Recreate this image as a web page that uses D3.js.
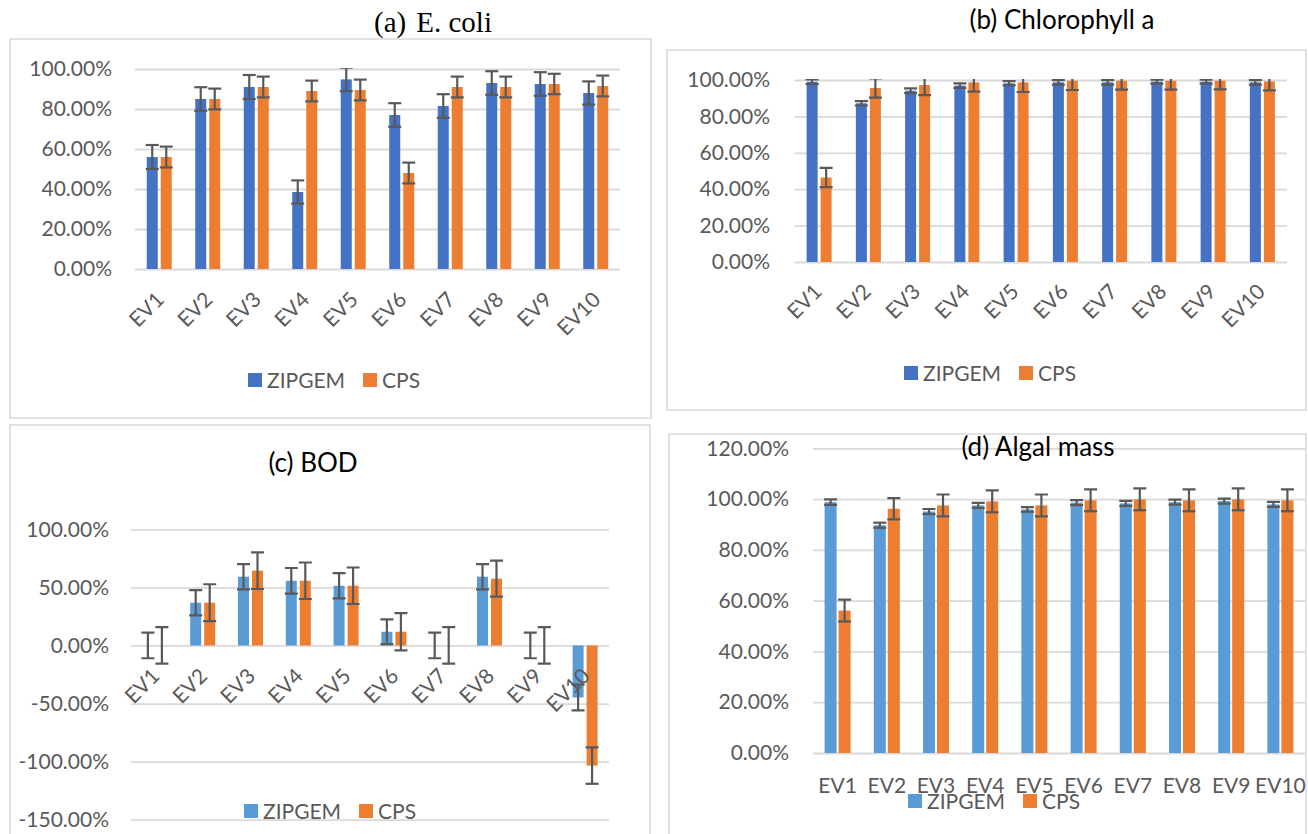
<!DOCTYPE html>
<html>
<head>
<meta charset="utf-8">
<script src="https://cdn.jsdelivr.net/npm/d3@7"></script>
<style>
  html, body { margin: 0; padding: 0; background: #ffffff; }
  svg { display: block; }
</style>
</head>
<body>
<svg id="fig" width="1308" height="834"></svg>
<script>
// ---- data -------------------------------------------------------------
const categories = ["EV1", "EV2", "EV3", "EV4", "EV5", "EV6", "EV7", "EV8", "EV9", "EV10"];
const seriesNames = ["ZIPGEM", "CPS"];

// (a) E. coli  (percent removal, with error magnitudes)
const ecoliZipgem    = [56.0, 85.0, 91.0, 38.5, 94.8, 77.0, 81.5, 93.0, 92.5, 88.0];
const ecoliZipgemErr = [6.0, 5.9, 6.0, 5.8, 5.9, 5.9, 5.9, 5.9, 5.9, 5.8];
const ecoliCps       = [56.0, 85.0, 91.0, 89.0, 89.5, 48.0, 91.0, 91.0, 92.5, 91.5];
const ecoliCpsErr    = [5.2, 5.2, 5.2, 5.2, 5.2, 5.2, 5.2, 5.2, 5.1, 5.2];
const ecoliTicks     = [0, 20, 40, 60, 80, 100];

// (b) Chlorophyll a
const chlorZipgem    = [99.0, 87.2, 94.1, 96.9, 98.2, 98.7, 98.7, 99.1, 99.1, 98.7];
const chlorZipgemErr = [1.3, 1.2, 1.3, 1.2, 1.2, 1.2, 1.2, 1.1, 1.1, 1.2];
const chlorCps       = [46.4, 95.6, 97.2, 98.7, 98.7, 99.6, 99.6, 99.6, 99.6, 99.2];
const chlorCpsErr    = [5.3, 5.3, 5.5, 5.1, 5.3, 5.1, 4.9, 4.9, 4.7, 4.9];
const chlorTicks     = [0, 20, 40, 60, 80, 100];

// (c) BOD
const bodZipgem      = [0, 36.8, 59.2, 55.7, 51.4, 11.8, 0, 59.2, 0, -44.8];
const bodZipgemErr   = [11.0, 10.9, 10.9, 11.0, 10.9, 10.7, 11.0, 10.9, 11.0, 11.0];
const bodCps         = [0, 36.8, 64.4, 55.7, 51.4, 11.8, 0, 57.5, 0, -103.4];
const bodCpsErr      = [15.7, 15.9, 15.8, 15.7, 15.7, 16.0, 15.7, 15.5, 15.7, 15.7];
const bodTicks       = [-150, -100, -50, 0, 50, 100];

// (d) Algal mass
const algalZipgem    = [98.8, 89.7, 95.1, 97.5, 95.9, 98.6, 98.3, 98.8, 99.2, 97.9];
const algalZipgemErr = [1.1, 1.0, 1.0, 1.0, 0.9, 1.0, 1.0, 1.0, 1.0, 1.0];
const algalCps       = [56.1, 96.2, 97.5, 99.1, 97.5, 99.5, 99.9, 99.5, 99.9, 99.5];
const algalCpsErr    = [4.3, 4.2, 4.3, 4.3, 4.3, 4.3, 4.3, 4.3, 4.3, 4.3];
const algalTicks     = [0, 20, 40, 60, 80, 100, 120];

// ---- styles -----------------------------------------------------------
const ORANGE = "#ED7D31";
const BLUE_DARK = "#4472C4";
const BLUE_LIGHT = "#5B9BD5";
const TEXT_GREY = "#595959";
const GRID = "#d9d9d9";
const ERR = "#595959";
const SANS = "Lato, 'Open Sans', sans-serif";
const SERIF = "'Liberation Serif', 'Times New Roman', serif";

const panels = [
  {
    id: "a", title: "(a)", title2: "E. coli", titleFont: SERIF, titleSize: 29, titleX: 433, titleY: 32,
    box: [10, 39, 651, 418], x0: 135, x1: 620, yTop: 69, yBot: 269,
    domain: [0, 100], ticks: ecoliTicks, tickRight: 112,
    values: [ecoliZipgem, ecoliCps], errs: [ecoliZipgemErr, ecoliCpsErr],
    blue: BLUE_DARK, barW: 11, barGap: 3,
    labels: "rotated", labelDx: 6, labelDy: 32,
    legendX: 248, legendY: 380
  },
  {
    id: "b", title: "(b) Chlorophyll a", titleFont: SANS, titleSize: 26, titleX: 1062, titleY: 29,
    box: [667, 50, 1306, 410], x0: 794.5, x1: 1287, yTop: 80, yBot: 262,
    domain: [0, 100], ticks: chlorTicks, tickRight: 770,
    values: [chlorZipgem, chlorCps], errs: [chlorZipgemErr, chlorCpsErr],
    blue: BLUE_DARK, barW: 11, barGap: 3,
    labels: "rotated", labelDx: 4, labelDy: 31,
    legendX: 904, legendY: 373
  },
  {
    id: "c", title: "(c) BOD", titleFont: SANS, titleSize: 26, titleX: 313, titleY: 472,
    box: [10, 425, 650, 845], x0: 131, x1: 609, yTop: 529.3, yBot: 819.7,
    domain: [-150, 100], ticks: bodTicks, tickRight: 109,
    values: [bodZipgem, bodCps], errs: [bodZipgemErr, bodCpsErr],
    blue: BLUE_LIGHT, barW: 11, barGap: 3,
    labels: "rotated", labelDx: 6, labelDy: 32,
    legendX: 244, legendY: 811
  },
  {
    id: "d", title: "(d) Algal mass", titleFont: SANS, titleSize: 26, titleX: 1038, titleY: 456,
    box: [669, 434, 1306, 845], x0: 813, x1: 1305, yTop: 448.3, yBot: 753,
    domain: [0, 120], ticks: algalTicks, tickRight: 789,
    values: [algalZipgem, algalCps], errs: [algalZipgemErr, algalCpsErr],
    blue: BLUE_LIGHT, barW: 12, barGap: 2,
    labels: "flat", labelY: 785,
    legendX: 908, legendY: 801
  }
];

const svg = d3.select("#fig");
const defs = svg.append("defs");
const pct = v => v.toFixed(2) + "%";

panels.forEach(p => {
  const g = svg.append("g").attr("class", "panel-" + p.id);

  // panel frame
  g.append("rect")
    .attr("x", p.box[0]).attr("y", p.box[1])
    .attr("width", p.box[2] - p.box[0]).attr("height", p.box[3] - p.box[1])
    .attr("fill", "#ffffff").attr("stroke", GRID).attr("stroke-width", 1.5);

  const x = d3.scaleBand().domain(categories).range([p.x0, p.x1]).paddingInner(0).paddingOuter(0);
  const y = d3.scaleLinear().domain(p.domain).range([p.yBot, p.yTop]);

  // gridlines + tick labels
  const yAxis = d3.axisLeft(y).tickValues(p.ticks).tickFormat(pct)
    .tickSize(-(p.x1 - p.x0)).tickPadding(p.x0 - p.tickRight);
  const ya = g.append("g").attr("transform", `translate(${p.x0},0)`).call(yAxis);
  ya.select(".domain").remove();
  ya.selectAll(".tick line").attr("stroke", GRID).attr("stroke-width", 1.8);
  ya.selectAll(".tick text").attr("fill", TEXT_GREY)
    .style("font-family", SANS).style("font-size", "21px");

  // clip region for the plot area (error bars past the axis maximum are cut)
  const clipId = "clip-" + p.id;
  defs.append("clipPath").attr("id", clipId).append("rect")
    .attr("x", p.x0 - 10).attr("y", p.yTop - 1)
    .attr("width", p.x1 - p.x0 + 20).attr("height", p.yBot - p.yTop + 40);

  const plot = g.append("g").attr("clip-path", `url(#${clipId})`);
  const colors = [p.blue, ORANGE];
  const offsets = [-(p.barW + p.barGap / 2), p.barGap / 2];

  // bars
  seriesNames.forEach((s, si) => {
    const rows = categories.map((c, i) => ({ c, v: p.values[si][i], e: p.errs[si][i] }));
    plot.append("g").selectAll("rect").data(rows).join("rect")
      .attr("x", d => x(d.c) + x.bandwidth() / 2 + offsets[si])
      .attr("width", p.barW)
      .attr("y", d => y(Math.max(0, d.v)))
      .attr("height", d => Math.abs(y(d.v) - y(0)))
      .attr("fill", colors[si]);
  });

  // error bars
  seriesNames.forEach((s, si) => {
    const rows = categories.map((c, i) => ({ c, v: p.values[si][i], e: p.errs[si][i] }));
    const eg = plot.append("g").attr("stroke", ERR).attr("stroke-width", 2.2).attr("fill", "none");
    const cap = 6.5;
    rows.forEach(d => {
      const cxv = x(d.c) + x.bandwidth() / 2 + offsets[si] + p.barW / 2;
      const hi = y(d.v + d.e), lo = y(d.v - d.e);
      eg.append("line").attr("x1", cxv).attr("x2", cxv).attr("y1", hi).attr("y2", lo);
      eg.append("line").attr("x1", cxv - cap).attr("x2", cxv + cap).attr("y1", hi).attr("y2", hi);
      eg.append("line").attr("x1", cxv - cap).attr("x2", cxv + cap).attr("y1", lo).attr("y2", lo);
    });
  });

  // category labels
  const zeroY = y(Math.max(p.domain[0], 0));
  const xAxis = d3.axisBottom(x).tickSize(0).tickPadding(0);
  const xa = g.append("g").attr("transform", `translate(0,${zeroY})`).call(xAxis);
  xa.select(".domain").remove();
  const xt = xa.selectAll(".tick text").attr("fill", TEXT_GREY)
    .style("font-family", SANS).style("font-size", "21px");
  if (p.labels === "rotated") {
    xt.attr("text-anchor", "end").attr("y", 0).attr("dy", 0)
      .attr("transform", `translate(${p.labelDx},${p.labelDy}) rotate(-45)`);
  } else {
    xt.attr("y", p.labelY - zeroY).attr("dy", "0.36em");
  }

  // title
  const t = g.append("text")
    .attr("x", p.titleX).attr("y", p.titleY)
    .attr("text-anchor", "middle")
    .attr("fill", "#000000")
    .style("font-family", p.titleFont).style("font-size", p.titleSize + "px");
  if (p.title2) {
    t.append("tspan").text(p.title);
    t.append("tspan").attr("dx", 10).text(p.title2);
  } else {
    t.text(p.title);
  }

  // legend
  const lg = g.append("g").attr("transform", `translate(${p.legendX},${p.legendY})`);
  seriesNames.forEach((s, si) => {
    const item = lg.append("g").attr("transform", `translate(${si * 115},0)`);
    item.append("rect").attr("x", 0).attr("y", -7).attr("width", 14).attr("height", 14).attr("fill", colors[si]);
    item.append("text").attr("x", 19).attr("y", 0).attr("dy", "0.36em")
      .attr("fill", TEXT_GREY).style("font-family", SANS).style("font-size", "21px").text(s);
  });
});
</script>
</body>
</html>
